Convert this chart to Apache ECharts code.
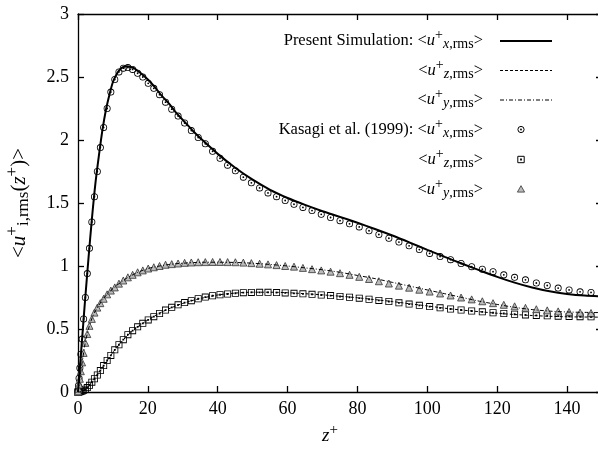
<!DOCTYPE html>
<html><head><meta charset="utf-8">
<script src="https://cdn.jsdelivr.net/npm/echarts@6/dist/echarts.min.js"></script>
<style>html,body{margin:0;padding:0;background:#fff}#c{width:598px;height:450px}</style>
</head><body><div id="c"></div>
<script>
// Present simulation (lines)
const simZp = [0,0.5,1,1.5,2,3,4,5,6,7,8,9,10,11,12,13,14,15,16,17,18,20,22,24,26,28,30,33,36,40,45,50,55,60,65,70,75,80,85,90,95,100,105,110,115,120,125,130,135,140,145,150];
const simUx = [0,0.18,0.36,0.54,0.72,1.06,1.38,1.66,1.88,2.08,2.24,2.36,2.46,2.52,2.56,2.58,2.585,2.58,2.57,2.55,2.53,2.48,2.42,2.35,2.29,2.22,2.16,2.07,1.99,1.89,1.78,1.685,1.605,1.54,1.485,1.435,1.39,1.343,1.294,1.242,1.186,1.128,1.072,1.018,0.965,0.914,0.868,0.829,0.799,0.778,0.765,0.76];
const simUz = [0,0.001,0.005,0.011,0.02,0.045,0.08,0.115,0.155,0.195,0.235,0.275,0.315,0.35,0.385,0.415,0.445,0.47,0.495,0.515,0.535,0.572,0.605,0.635,0.66,0.683,0.703,0.728,0.748,0.77,0.785,0.792,0.792,0.788,0.78,0.771,0.76,0.748,0.733,0.718,0.7,0.683,0.665,0.65,0.637,0.625,0.615,0.607,0.601,0.597,0.595,0.594];
const simUy = [0,0.1,0.2,0.29,0.38,0.5,0.585,0.645,0.69,0.73,0.765,0.795,0.82,0.845,0.865,0.885,0.905,0.92,0.935,0.948,0.96,0.98,0.993,1.003,1.012,1.018,1.022,1.027,1.03,1.03,1.028,1.022,1.012,1.0,0.985,0.97,0.95,0.925,0.9,0.87,0.84,0.81,0.78,0.75,0.72,0.695,0.672,0.654,0.642,0.635,0.632,0.63];
// Kasagi et al. (1999) (symbols)
const kasZp = [0,0.03,0.13,0.30,0.53,0.82,1.18,1.61,2.10,2.66,3.28,3.96,4.71,5.53,6.40,7.34,8.34,9.40,10.53,11.72,12.97,14.28,15.64,17.07,18.55,20.10,21.70,23.35,25.06,26.83,28.65,30.52,32.44,34.41,36.44,38.53,40.65,42.83,45.05,47.33,49.63,51.99,54.39,56.84,59.31,61.83,64.39,66.99,69.63,72.30,75.00,77.73,80.51,83.31,86.13,88.99,91.87,94.78,97.71,100.66,103.65,106.65,109.66,112.69,115.74,118.81,121.89,124.98,128.09,131.20,134.32,137.45,140.58,143.72,146.86,150.00];
const kasUx = [0,0.01,0.05,0.11,0.19,0.30,0.42,0.58,0.75,0.94,1.14,1.35,1.55,1.75,1.94,2.10,2.25,2.38,2.48,2.54,2.57,2.575,2.56,2.53,2.50,2.45,2.41,2.36,2.30,2.245,2.19,2.135,2.075,2.02,1.97,1.91,1.855,1.80,1.755,1.705,1.66,1.62,1.58,1.55,1.52,1.49,1.465,1.44,1.41,1.385,1.36,1.335,1.31,1.28,1.25,1.22,1.19,1.16,1.13,1.10,1.075,1.05,1.02,0.995,0.975,0.955,0.93,0.91,0.89,0.865,0.845,0.825,0.81,0.795,0.79,0.785];
const kasUz = [0,0,0.0005,0.001,0.002,0.004,0.007,0.013,0.022,0.035,0.053,0.078,0.105,0.135,0.17,0.21,0.25,0.29,0.335,0.375,0.415,0.455,0.487,0.517,0.545,0.572,0.598,0.623,0.65,0.672,0.692,0.71,0.725,0.74,0.753,0.764,0.772,0.778,0.784,0.788,0.79,0.791,0.791,0.789,0.786,0.783,0.779,0.775,0.77,0.765,0.758,0.752,0.745,0.736,0.727,0.718,0.708,0.698,0.688,0.678,0.668,0.659,0.651,0.643,0.636,0.629,0.623,0.617,0.612,0.608,0.605,0.602,0.600,0.598,0.597,0.597];
const kasUy = [0,0.006,0.026,0.06,0.105,0.165,0.235,0.31,0.39,0.46,0.525,0.58,0.63,0.67,0.705,0.74,0.775,0.805,0.83,0.86,0.885,0.91,0.93,0.95,0.965,0.98,0.99,1.0,1.01,1.015,1.02,1.025,1.028,1.03,1.031,1.032,1.032,1.031,1.03,1.027,1.023,1.018,1.013,1.007,1.0,0.995,0.985,0.975,0.965,0.955,0.943,0.93,0.914,0.897,0.879,0.861,0.844,0.828,0.812,0.797,0.782,0.766,0.75,0.735,0.72,0.705,0.692,0.68,0.668,0.657,0.648,0.64,0.635,0.63,0.627,0.625];

const legendLabels = [
  '{n|Present Simulation: <}{i|u}{p|+}{b|x}{s|,rms}{n|>}',
  '{n|<}{i|u}{p|+}{b|z}{s|,rms}{n|>}',
  '{n|<}{i|u}{p|+}{b|y}{s|,rms}{n|>}',
  '{n|Kasagi et al. (1999): <}{i|u}{p|+}{b|x}{s|,rms}{n|>}',
  '{n|<}{i|u}{p|+}{b|z}{s|,rms}{n|>}',
  '{n|<}{i|u}{p|+}{b|y}{s|,rms}{n|>}'
];

const FF = 'Liberation Serif';
const pair = (xs, ys) => xs.map((x, i) => [x, ys[i]]);

const circlePath = 'path://M0,-10A10,10,0,1,1,0,10A10,10,0,1,1,0,-10ZM0,-7.6A7.6,7.6,0,1,0,0,7.6A7.6,7.6,0,1,0,0,-7.6ZM0,-2.6A2.6,2.6,0,1,1,0,2.6A2.6,2.6,0,1,1,0,-2.6Z';
const squarePath = 'path://M-10,-10L10,-10L10,10L-10,10ZM-7.6,-7.6L-7.6,7.6L7.6,7.6L7.6,-7.6ZM-2.6,-2.6L2.6,-2.6L2.6,2.6L-2.6,2.6Z';

function richSet(main, sub) {
  return {
    n: {fontFamily: FF, fontSize: main, color: '#000', verticalAlign: 'middle'},
    i: {fontFamily: FF, fontSize: main, fontStyle: 'italic', color: '#000', verticalAlign: 'middle'},
    p: {fontFamily: FF, fontSize: sub, color: '#000', padding: [0, 0, Math.round(sub*0.75), 0], verticalAlign: 'middle'},
    b: {fontFamily: FF, fontSize: sub, fontStyle: 'italic', color: '#000', padding: [Math.round(sub*0.5), 0, 0, 0], verticalAlign: 'middle'},
    s: {fontFamily: FF, fontSize: sub, color: '#000', padding: [Math.round(sub*0.5), 0, 0, 0], verticalAlign: 'middle'}
  };
}

const chart = echarts.init(document.getElementById('c'), null, {renderer: 'canvas'});

const rowY = [41, 70.5, 100, 129.5, 159.5, 189.5];
const textRight = 483, sx1 = 500, sx2 = 552, mx = 521;
const graphics = [];
rowY.forEach((y, k) => {
  graphics.push({type: 'text', x: textRight, y: y, z: 100,
    style: {text: legendLabels[k], rich: richSet(16.5, 14), align: 'right', verticalAlign: 'middle',
            textAlign: 'right', textVerticalAlign: 'middle', fontFamily: FF, fontSize: 16.5, fill: '#000'}});
});
graphics.push({type: 'line', z: 100, shape: {x1: sx1, y1: rowY[0], x2: sx2, y2: rowY[0]}, style: {stroke: '#000', lineWidth: 2}});
graphics.push({type: 'line', z: 100, shape: {x1: sx1, y1: rowY[1], x2: sx2, y2: rowY[1]}, style: {stroke: '#000', lineWidth: 1, lineDash: [3, 2]}});
graphics.push({type: 'line', z: 100, shape: {x1: sx1, y1: rowY[2], x2: sx2, y2: rowY[2]}, style: {stroke: '#000', lineWidth: 1, lineDash: [4, 2, 1, 2]}});
graphics.push({type: 'circle', z: 100, shape: {cx: mx, cy: rowY[3], r: 3.1}, style: {fill: 'none', stroke: '#000', lineWidth: 1}});
graphics.push({type: 'circle', z: 100, shape: {cx: mx, cy: rowY[3], r: 0.9}, style: {fill: '#000'}});
graphics.push({type: 'rect', z: 100, shape: {x: mx - 3.2, y: rowY[4] - 3.2, width: 6.4, height: 6.4}, style: {fill: 'none', stroke: '#000', lineWidth: 1}});
graphics.push({type: 'rect', z: 100, shape: {x: mx - 0.9, y: rowY[4] - 0.9, width: 1.8, height: 1.8}, style: {fill: '#000'}});
graphics.push({type: 'polygon', z: 100, shape: {points: [[mx, rowY[5] - 3.8], [mx + 3.6, rowY[5] + 2.6], [mx - 3.6, rowY[5] + 2.6]]}, style: {fill: '#bbb', stroke: '#333', lineWidth: 0.8}});

const axisCommon = {
  axisLine: {show: true, onZero: false, lineStyle: {color: '#000', width: 1.3}},
  axisTick: {show: true, inside: true, length: 6, lineStyle: {color: '#000', width: 1.3}},
  splitLine: {show: false}
};

const option = {
  backgroundColor: '#fff',
  animation: false,
  grid: {left: 78, right: -4, top: 14, bottom: 58, containLabel: false, outerBoundsMode: 'none'},
  xAxis: [
    Object.assign({type: 'value', min: 0, max: 150, interval: 20, position: 'bottom',
      axisLabel: {showMaxLabel: false, color: '#000', fontFamily: FF, fontSize: 18, margin: 8},
      name: '{i|z}{p|+}', nameLocation: 'middle', nameGap: 31,
      nameTextStyle: {rich: richSet(19, 15), padding: [0, 20, 0, 0]}}, axisCommon),
    Object.assign({type: 'value', min: 0, max: 150, interval: 20, position: 'top',
      axisLabel: {show: false}}, axisCommon)
  ],
  yAxis: [
    Object.assign({type: 'value', min: 0, max: 3, interval: 0.5, position: 'left',
      axisLabel: {color: '#000', fontFamily: FF, fontSize: 18, margin: 9},
      name: '{n|<}{i|u}{p|+}{s|i,rms}{n|(}{i|z}{p|+}{n|)>}', nameLocation: 'middle', nameGap: 44, nameRotate: 90,
      nameTextStyle: {rich: richSet(21, 17)}}, axisCommon),
    Object.assign({type: 'value', min: 0, max: 3, interval: 0.5, position: 'right',
      axisLabel: {show: false}}, axisCommon)
  ],
  graphic: graphics,
  series: [
    {type: 'scatter', name: 'Kasagi ux', data: pair(kasZp, kasUx), symbol: circlePath, symbolSize: 7,
     clip: false, itemStyle: {color: '#000', opacity: 1}, z: 3},
    {type: 'scatter', name: 'Kasagi uz', data: pair(kasZp, kasUz), symbol: squarePath, symbolSize: 7,
     clip: false, itemStyle: {color: '#000', opacity: 1}, z: 3},
    {type: 'scatter', name: 'Kasagi uy', data: pair(kasZp, kasUy), symbol: 'triangle', symbolSize: 7,
     clip: false, itemStyle: {color: '#bbb', borderColor: '#333', borderWidth: 0.8, opacity: 1}, z: 3},
    {type: 'line', name: 'sim ux', data: pair(simZp, simUx), showSymbol: false, smooth: 0.3,
     lineStyle: {color: '#000', width: 2}, z: 4},
    {type: 'line', name: 'sim uz', data: pair(simZp, simUz), showSymbol: false, smooth: 0.3,
     lineStyle: {color: '#000', width: 1, type: [3, 2]}, z: 4},
    {type: 'line', name: 'sim uy', data: pair(simZp, simUy), showSymbol: false, smooth: 0.3,
     lineStyle: {color: '#000', width: 1, type: [4, 2, 1, 2]}, z: 4}
  ]
};
chart.setOption(option);
</script>
</body></html>
